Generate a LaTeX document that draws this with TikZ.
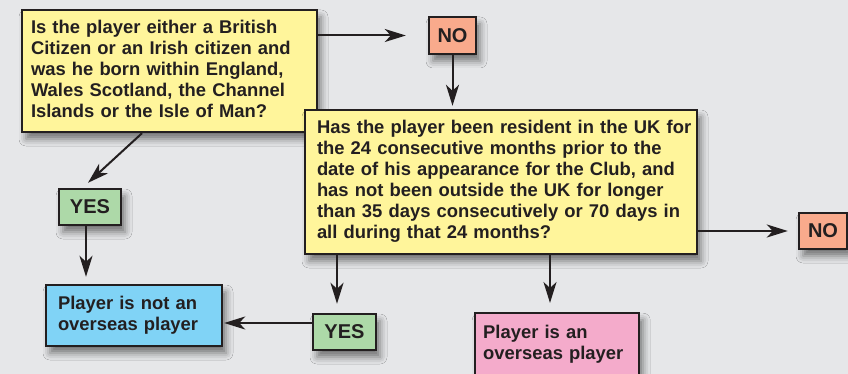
\documentclass[tikz,border=0pt]{standalone}
\usepackage{fontspec}
\setmainfont{Liberation Sans}
\usetikzlibrary{shadows.blur,arrows.meta}
\definecolor{bg}{HTML}{E6E7E9}
\definecolor{ink}{HTML}{231F20}
\definecolor{yel}{HTML}{FFF59B}
\definecolor{grn}{HTML}{ADD9A8}
\definecolor{blu}{HTML}{80D3F6}
\definecolor{pnk}{HTML}{F4ABCB}
\definecolor{sal}{HTML}{F9AA8C}
\newcommand\tlines[1]{\begin{tabular}{@{}l@{}}#1\end{tabular}}
\begin{document}
\begin{tikzpicture}[x=1pt,y=-1pt,
  shad/.style={blur shadow={shadow xshift=4pt,shadow yshift=-7pt,shadow blur radius=7pt,shadow opacity=50}},
  box/.style={draw=ink, line width=2.4pt, shad, text=ink, align=left, inner ysep=0pt,
    font=\bfseries\fontsize{18.4}{21}\selectfont},
  tag/.style={draw=ink, line width=2.4pt, shad, text=ink, inner sep=0pt,
    font=\bfseries\fontsize{20}{22}\selectfont},
  arr/.style={draw=ink, line width=2pt, -{Stealth[length=21pt,width=13pt,inset=6pt]}}]
\useasboundingbox[fill=bg] (0,0) rectangle (848,374);

\node[box, fill=yel, text width=277pt, inner xsep=9pt, minimum height=122pt] (q1) at (169.5,71)
  {\tlines{Is the player either a British\\Citizen or an Irish citizen and\\was he born within England,\\Wales Scotland, the Channel\\Islands or the Isle of Man?}};
\node[box, fill=yel, text width=368pt, inner xsep=12pt, minimum height=144pt] (q2) at (501,182)
  {\tlines{Has the player been resident in the UK for\\the 24 consecutive months prior to the\\date of his appearance for the Club, and\\has not been outside the UK for longer\\than 35 days consecutively or 70 days in\\all during that 24 months?}};
\node[tag, fill=sal, minimum width=47pt, minimum height=37pt] (no1) at (452.5,35.5) {NO};
\node[tag, fill=sal, minimum width=48pt, minimum height=36pt] (no2) at (823,231) {NO};
\node[tag, fill=grn, minimum width=62pt, minimum height=36pt] (yes1) at (90,207) {YES};
\node[tag, fill=grn, minimum width=63pt, minimum height=36pt] (yes2) at (344.5,332) {YES};
\node[box, fill=blu, text width=152pt, inner xsep=12pt, minimum height=61pt] (notos) at (134,315.5)
  {\tlines{Player is not an\\overseas player}};
\node[box, fill=pnk, text width=148pt, inner xsep=8pt, inner ysep=11pt, text depth=60pt, anchor=north west] (os) at (474,312)
  {\tlines{Player is an\\overseas player}};

\draw[arr, shorten >=22pt] (q1.east |- no1.west) -- (no1.west);
\draw[arr, shorten >=3pt] (no1.south) -- (no1.south |- q2.north);
\draw[arr] ([xshift=-27.5pt]q1.south) -- ([shift={(-2pt,5pt)}]yes1.north);
\draw[arr, shorten >=7pt] ([xshift=-4pt]yes1.south) -- ([xshift=-4pt]yes1.south |- notos.north);
\draw[arr, shorten >=9pt] ([xshift=-164pt]q2.south) -- ([xshift=-164pt]q2.south |- yes2.north);
\draw[arr, shorten >=1pt] ([yshift=9pt]yes2.west) -- ([yshift=9pt]yes2.west -| notos.east);
\draw[arr, shorten >=9pt] ([xshift=49pt]q2.south) -- ([xshift=49pt]q2.south |- os.north);
\draw[arr, shorten >=10pt] (q2.east |- no2.west) -- (no2.west);
\end{tikzpicture}
\end{document}
